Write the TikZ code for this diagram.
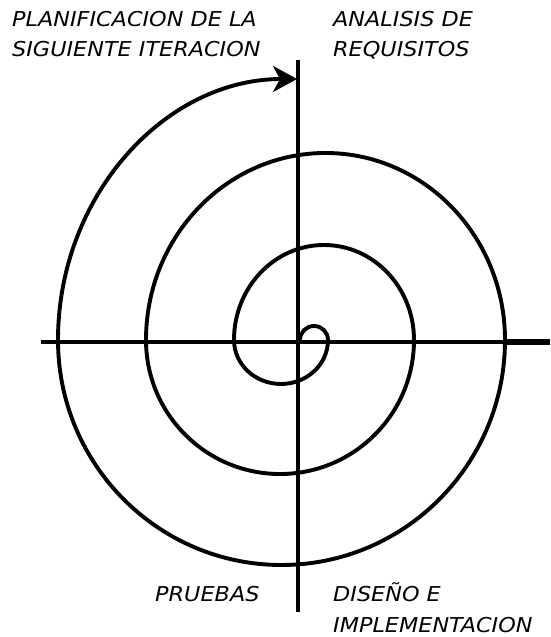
\documentclass[tikz,border=0pt]{standalone}
\usepackage{fontspec}
\setmainfont{DejaVu Sans}
\usetikzlibrary{arrows.meta}
\tikzset{
  lbl/.style={anchor=base west, inner sep=0pt, font=\fontsize{20.5pt}{24pt}\selectfont\itshape},
  axis/.style={line width=3.6pt},
  spiral/.style={line width=3.9pt}
}
\newcommand{\wide}[1]{\scalebox{1.09}[1]{#1}}
\begin{document}
\begin{tikzpicture}[x=1pt,y=1pt]
\useasboundingbox[fill=white] (0,0) rectangle (550,637);
% axes
\coordinate (hl) at (41,295);
\coordinate (hr) at (550,295);
\coordinate (hm) at (505,295);
\coordinate (vt) at (298,577);
\coordinate (vm) at (298,452);
\coordinate (vb) at (298,25);
\draw[axis] (hl) -- (hr);
\draw[line width=5.5pt] (hm) -- (hr);
\draw[line width=3.4pt] (vt) -- (vm);
\draw[line width=4.4pt] (vm) -- (vb);
% spiral
\coordinate (s0) at (300,297);
\draw[spiral,-{Stealth[length=24pt,width=26pt,inset=7pt]}] (s0)
  arc[start angle=180,end angle=0,radius=14]
  arc[start angle=0,end angle=-180,x radius=47,y radius=44]
  arc[start angle=180,end angle=0,x radius=90,y radius=95]
  arc[start angle=0,end angle=-180,x radius=134,y radius=134]
  arc[start angle=180,end angle=0,x radius=179.5,y radius=187]
  arc[start angle=0,end angle=-180,x radius=223.5,y radius=225]
  arc[start angle=180,end angle=90,x radius=239,y radius=261];
% labels
\node[lbl] (p1) at (12,610) {\wide{PLANIFICACION DE LA}};
\node[lbl] (p2) at (12,580) {\wide{SIGUIENTE ITERACION}};
\node[lbl] (a1) at (333,610) {\wide{ANALISIS DE}};
\node[lbl] (a2) at (333,580) {\wide{REQUISITOS}};
\node[lbl] (pr) at (155,35) {\wide{PRUEBAS}};
\node[lbl] (d1) at (333,35) {\wide{DISEÑO E}};
\node[lbl] (d2) at (333,5) {\wide{IMPLEMENTACION}};
\end{tikzpicture}
\end{document}
